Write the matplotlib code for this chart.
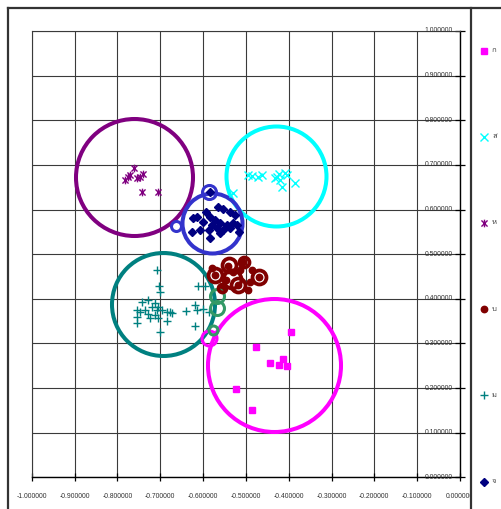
import matplotlib
matplotlib.use("Agg")
import matplotlib.pyplot as plt
import matplotlib.font_manager as fm
from matplotlib.path import Path
from matplotlib.lines import Line2D
from matplotlib.patches import Rectangle

# ---------------- data ----------------
series_names = ["ก", "ส", "ห", "บ", "ม", "จ"]

mag_x = [-0.395, -0.477, -0.444, -0.423, -0.414, -0.405, -0.523, -0.485]
mag_y = [0.326, 0.293, 0.255, 0.252, 0.265, 0.249, 0.198, 0.150]

cyan_x = [-0.530, -0.495, -0.486, -0.472, -0.462, -0.427, -0.420, -0.409, -0.404, -0.416, -0.385, -0.423, -0.432]
cyan_y = [0.637, 0.677, 0.675, 0.673, 0.677, 0.673, 0.666, 0.682, 0.677, 0.650, 0.659, 0.680, 0.671]

purp_x = [-0.782, -0.771, -0.761, -0.747, -0.741, -0.754, -0.743, -0.706, -0.775]
purp_y = [0.666, 0.677, 0.693, 0.673, 0.680, 0.671, 0.639, 0.639, 0.673]

red_x = [-0.572, -0.541, -0.507, -0.469, -0.518, -0.495, -0.546, -0.530, -0.490, -0.514, -0.558, -0.579, -0.486]
red_y = [0.453, 0.474, 0.482, 0.449, 0.431, 0.420, 0.443, 0.461, 0.438, 0.465, 0.425, 0.469, 0.465]

teal_x = [-0.708, -0.703, -0.700, -0.611, -0.595, -0.743, -0.728, -0.720, -0.712, -0.704, -0.696,
          -0.685, -0.677, -0.755, -0.747, -0.736, -0.728, -0.712, -0.704, -0.754, -0.754, -0.700,
          -0.685, -0.640, -0.619, -0.615, -0.619, -0.587, -0.708, -0.724, -0.673, -0.600]
teal_y = [0.464, 0.429, 0.416, 0.429, 0.429, 0.393, 0.397, 0.382, 0.390, 0.382, 0.375,
          0.371, 0.371, 0.375, 0.371, 0.375, 0.367, 0.364, 0.356, 0.360, 0.345, 0.326,
          0.351, 0.373, 0.386, 0.375, 0.339, 0.371, 0.375, 0.356, 0.369, 0.377]

navy_x = [-0.564, -0.553, -0.537, -0.525, -0.623, -0.615, -0.584, -0.572, -0.599, -0.580, -0.560,
          -0.544, -0.529, -0.626, -0.607, -0.587, -0.568, -0.553, -0.537, -0.517, -0.584, -0.560,
          -0.521, -0.584, -0.593]
navy_y = [0.606, 0.601, 0.595, 0.588, 0.580, 0.584, 0.584, 0.577, 0.573, 0.565, 0.569,
          0.565, 0.569, 0.550, 0.554, 0.554, 0.558, 0.554, 0.558, 0.550, 0.536, 0.547,
          0.565, 0.639, 0.594]

# cluster centre bubbles (x, y, radius in px)
centre_x = [-0.435, -0.430, -0.760, -0.693, -0.579]
centre_y = [0.252, 0.674, 0.673, 0.389, 0.569]
centre_r = [66.5, 50, 58.5, 51.5, 30]

# small ring bubbles
ring_x = [-0.585, -0.568, -0.568, -0.576, -0.585, -0.662,
          -0.572, -0.539, -0.504, -0.469, -0.518, -0.532, -0.556]
ring_y = [0.312, 0.406, 0.380, 0.331, 0.639, 0.564,
          0.453, 0.476, 0.482, 0.449, 0.431, 0.444, 0.425]
ring_r = [7.5, 7, 7, 4.5, 7, 5,
          7, 7, 5, 7, 7, 9, 4]

x_ticks = [-1.0, -0.9, -0.8, -0.7, -0.6, -0.5, -0.4, -0.3, -0.2, -0.1, 0.0]
y_ticks = [0.0, 0.1, 0.2, 0.3, 0.4, 0.5, 0.6, 0.7, 0.8, 0.9, 1.0]

# ---------------- styles ----------------
MAG, CYAN, PURP, RED, TEAL, NAVY = "#FF00FF", "#00FFFF", "#800080", "#800000", "#008080", "#000080"
BLUE, GREEN = "#3333CC", "#339966"
centre_colors = [MAG, CYAN, PURP, TEAL, BLUE]
ring_colors = [MAG, GREEN, GREEN, GREEN, BLUE, BLUE,
               RED, RED, RED, RED, RED, RED, RED]

star = Path([(-1, -1), (1, 1), (-1, 1), (1, -1), (0, -1.25), (0, 1.25)],
            [Path.MOVETO, Path.LINETO, Path.MOVETO, Path.LINETO, Path.MOVETO, Path.LINETO])

# Thai-capable font
thai_font = None
try:
    from fontTools.ttLib import TTFont
    for f in fm.fontManager.ttflist:
        try:
            tt = TTFont(f.fname, fontNumber=0, lazy=True)
            cm = tt.getBestCmap()
            if cm and 0x0E01 in cm and 0x0E2A in cm:
                thai_font = f.name
                break
        except Exception:
            pass
except Exception:
    pass
thai_family = [thai_font, "DejaVu Sans"] if thai_font else ["DejaVu Sans"]

W, H = 502, 509
fig = plt.figure(figsize=(W / 100, H / 100), dpi=100)
fig.patch.set_facecolor("white")

px_l, px_r, px_t, px_b = 31.7, 460.0, 31.0, 477.3
ax = fig.add_axes([px_l / W, 1 - px_b / H, (px_r - px_l) / W, (px_b - px_t) / H])
ax.set_xlim(-1, 0)
ax.set_ylim(0, 1)
ax.set_xticks(x_ticks)
ax.set_yticks(y_ticks)
ax.grid(True, color="#3a3a3a", linewidth=0.8)
ax.set_axisbelow(True)
for s in ["left", "top"]:
    ax.spines[s].set_color("#3a3a3a")
    ax.spines[s].set_linewidth(0.8)
for s in ["right", "bottom"]:
    ax.spines[s].set_color("black")
    ax.spines[s].set_linewidth(1.0)
ax.yaxis.set_ticks_position("right")
ax.tick_params(axis="y", direction="inout", length=7, width=0.9, labelright=False, labelleft=False)
ax.tick_params(axis="x", direction="inout", length=6, width=0.9, labelbottom=False)

lab_font = dict(family="Liberation Sans", fontsize=4.9, color="#333333")
for v in x_ticks:
    ax.annotate(f"{v:.6f}", xy=(v, 0), xytext=(0, -14), textcoords="offset points",
                ha="center", va="center", annotation_clip=False, **lab_font)
for v in y_ticks:
    ax.annotate(f"{v:.6f}", xy=(0, v), xytext=(-5.3, 0), textcoords="offset points",
                ha="right", va="center", annotation_clip=False, **lab_font)

pt = 0.72  # points per pixel
# point series
ax.plot(mag_x, mag_y, ls="none", marker="s", ms=4.3, mfc=MAG, mec=MAG, zorder=4)
ax.plot(cyan_x, cyan_y, ls="none", marker="x", ms=5.5, mec=CYAN, mew=1, zorder=4)
ax.plot(purp_x, purp_y, ls="none", marker=star, ms=5.5, mec=PURP, mew=1, zorder=4)
ax.plot(red_x, red_y, ls="none", marker="o", ms=4.6, mfc=RED, mec=RED, zorder=4)
ax.plot(teal_x, teal_y, ls="none", marker="+", ms=6, mec=TEAL, mew=1, zorder=4)
ax.plot(navy_x, navy_y, ls="none", marker="D", ms=4.1, mfc=NAVY, mec=NAVY, zorder=4)

# centre bubbles
for cx, cy, r, c in zip(centre_x, centre_y, centre_r, centre_colors):
    ax.plot([cx], [cy], ls="none", marker="o", ms=2 * r * pt, mfc="none", mec=c, mew=2.9, zorder=3)
# small rings
for cx, cy, r, c in zip(ring_x, ring_y, ring_r, ring_colors):
    ax.plot([cx], [cy], ls="none", marker="o", ms=2 * r * pt, mfc="none", mec=c,
            mew=2.7 if c == RED else 2.2, zorder=5)

# legend area / chart border
fig.add_artist(Rectangle((471 / W, 0), 1, 1 - 8 / H, transform=fig.transFigure,
                         facecolor="white", edgecolor="none", zorder=5))
border = dict(color="#333333", linewidth=1.6, zorder=6, transform=fig.transFigure)
fig.add_artist(Line2D([8 / W, 1], [1 - 8 / H, 1 - 8 / H], **border))
fig.add_artist(Line2D([8 / W, 8 / W], [0, 1 - 8 / H], **border))
fig.add_artist(Line2D([471 / W, 471 / W], [0, 1 - 8 / H], **border))

leg_styles = [
    dict(marker="s", ms=4.3, mfc=MAG, mec=MAG),
    dict(marker="x", ms=5.5, mec=CYAN, mew=1),
    dict(marker=star, ms=5.5, mec=PURP, mew=1),
    dict(marker="o", ms=4.6, mfc=RED, mec=RED),
    dict(marker="+", ms=6, mec=TEAL, mew=1),
    dict(marker="D", ms=4.1, mfc=NAVY, mec=NAVY),
]
leg_y0, leg_dy = 50.5, 86.2
for i, (name, st) in enumerate(zip(series_names, leg_styles)):
    yy = 1 - (leg_y0 + i * leg_dy) / H
    fig.add_artist(Line2D([484.5 / W], [yy], ls="none", transform=fig.transFigure, zorder=7, **st))
    fig.text(492 / W, yy, name, family=thai_family, fontsize=5.5, color="#444444",
             ha="left", va="center", zorder=7)

fig.savefig("out.png", dpi=100, facecolor="white")
